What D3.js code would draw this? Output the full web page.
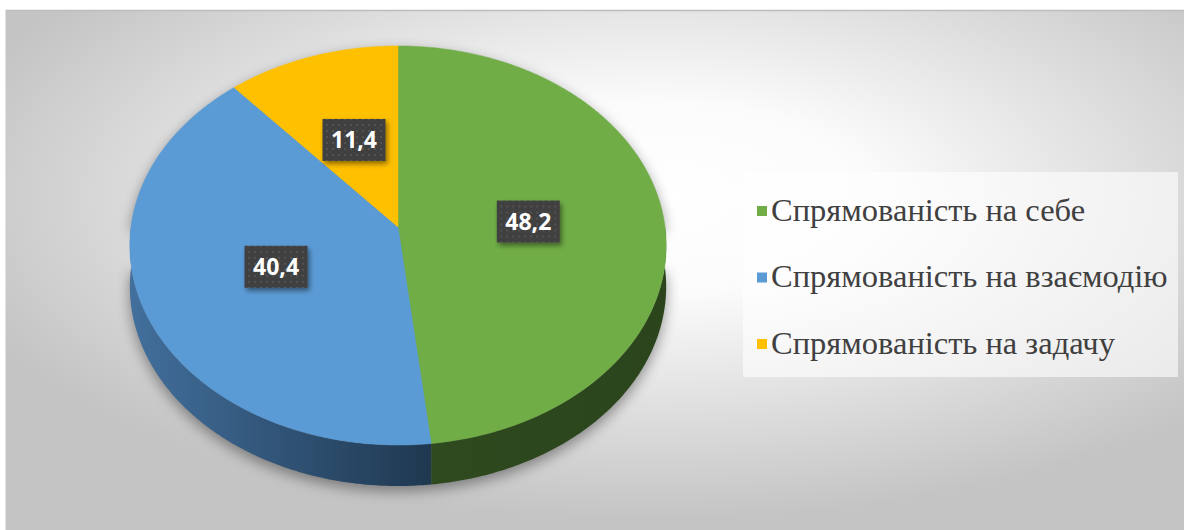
<!DOCTYPE html>
<html><head><meta charset="utf-8">
<script src="https://cdn.jsdelivr.net/npm/d3@7"></script>
<style>html,body{margin:0;padding:0;background:#fff;}svg{display:block;}
.legend-text{font-family:"Liberation Serif","Times New Roman",serif;}</style>
</head><body>
<svg id="chart" width="1184" height="530"></svg>
<script>
const categories = ["Спрямованість на себе", "Спрямованість на взаємодію", "Спрямованість на задачу"];
const values = [48.2, 40.4, 11.4];
const valueLabels = ["48,2", "40,4", "11,4"];
const topColors = ["#70AD47", "#5B9BD5", "#FFC000"];
const sideColors = [["#2e4a1e", "#2b441c"], ["#426f9c", "#1f3850"], ["#9a7300", "#7a5c00"]];

const svg = d3.select("#chart");
const defs = svg.append("defs");

// background gradient
const bg = defs.append("radialGradient").attr("id", "bg")
  .attr("cx", 0.55).attr("cy", 0.36).attr("r", 0.62);
bg.append("stop").attr("offset", 0).attr("stop-color", "#ffffff");
bg.append("stop").attr("offset", 0.3).attr("stop-color", "#fbfbfb");
bg.append("stop").attr("offset", 1).attr("stop-color", "#c4c4c4");
svg.append("rect").attr("x", 6).attr("y", 11).attr("width", 1178).attr("height", 519).attr("fill", "url(#bg)");
svg.append("line").attr("x1", 6).attr("x2", 1184).attr("y1", 10.5).attr("y2", 10.5).attr("stroke", "#bdbdbd").attr("stroke-width", 1.5);
svg.append("line").attr("x1", 5.5).attr("x2", 5.5).attr("y1", 10).attr("y2", 530).attr("stroke", "#e2e2e2").attr("stroke-width", 1);

// projection of a tilted disc with mild perspective
const cx = 398, cy = 227, R = 267, A = 0.0927, B = 197.8, depth = 41;
function proj(theta, f, dz) {
  const u = f * Math.sin(theta), v = -f * Math.cos(theta);
  const d = 1 - A * v;
  return [cx + R * u / d, cy + B * v / d + (dz || 0)];
}
function samples(a0, a1) {
  const n = Math.max(2, Math.ceil((a1 - a0) / 0.01));
  return d3.range(n + 1).map(i => a0 + (a1 - a0) * i / n);
}
const line = d3.line();

const pie = d3.pie().sort(null).startAngle(0).endAngle(2 * Math.PI);
const arcs = pie(values);

// shadow
const sh = defs.append("filter").attr("id", "shadow").attr("x", "-20%").attr("y", "-20%").attr("width", "140%").attr("height", "140%");
sh.append("feGaussianBlur").attr("in", "SourceAlpha").attr("stdDeviation", 7).attr("result", "b");
sh.append("feOffset").attr("in", "b").attr("dx", 0).attr("dy", 5).attr("result", "o");
sh.append("feComponentTransfer").attr("in", "o").append("feFuncA").attr("type", "linear").attr("slope", 0.4);

const frontBottom = samples(Math.PI / 2, 3 * Math.PI / 2).reverse().map(t => proj(t, 1, depth));
const silhouette = samples(-Math.PI / 2, Math.PI / 2).map(t => proj(t, 1, 0)).concat(frontBottom);
svg.append("path").attr("d", line(silhouette) + "Z").attr("fill", "#000").attr("filter", "url(#shadow)");

// side faces
arcs.forEach((a, i) => {
  const s0 = Math.max(a.startAngle, Math.PI / 2), s1 = Math.min(a.endAngle, 3 * Math.PI / 2);
  if (s1 <= s0) return;
  const gid = "side" + i;
  const p0 = proj(s0, 1, 0), p1 = proj(s1, 1, 0);
  const g = defs.append("linearGradient").attr("id", gid).attr("gradientUnits", "userSpaceOnUse")
    .attr("x1", Math.min(p0[0], p1[0])).attr("x2", Math.max(p0[0], p1[0])).attr("y1", 0).attr("y2", 0);
  const leftFirst = p0[0] > p1[0];
  g.append("stop").attr("offset", 0).attr("stop-color", leftFirst ? sideColors[i][0] : sideColors[i][1]);
  g.append("stop").attr("offset", 1).attr("stop-color", leftFirst ? sideColors[i][1] : sideColors[i][0]);
  const ts = samples(s0, s1);
  const pts = ts.map(t => proj(t, 1, 0)).concat(ts.slice().reverse().map(t => proj(t, 1, depth)));
  svg.append("path").attr("d", line(pts) + "Z").attr("fill", "url(#" + gid + ")");
});

// top faces
arcs.forEach((a, i) => {
  const pts = [proj(0, 0, 0)].concat(samples(a.startAngle, a.endAngle).map(t => proj(t, 1, 0)));
  svg.append("path").attr("d", line(pts) + "Z").attr("fill", topColors[i])
    .attr("stroke", topColors[i]).attr("stroke-width", 0.5);
});

// data labels
const pat = defs.append("pattern").attr("id", "dots").attr("patternUnits", "userSpaceOnUse").attr("width", 6).attr("height", 6);
pat.append("rect").attr("width", 6).attr("height", 6).attr("fill", "#3f3f3f");
pat.append("circle").attr("cx", 3).attr("cy", 3).attr("r", 1.1).attr("fill", "#585858");
const ls = defs.append("filter").attr("id", "lshadow").attr("x", "-30%").attr("y", "-30%").attr("width", "160%").attr("height", "160%");
ls.append("feDropShadow").attr("dx", 2).attr("dy", 3).attr("stdDeviation", 2.5).attr("flood-color", "#000").attr("flood-opacity", 0.45);

const bw = 63, bh = 42;
arcs.forEach((a, i) => {
  const mid = (a.startAngle + a.endAngle) / 2;
  const [x, y] = proj(mid, 0.49, 0);
  const g = svg.append("g").attr("transform", `translate(${x},${y})`);
  g.append("rect").attr("x", -bw / 2).attr("y", -bh / 2).attr("width", bw).attr("height", bh)
    .attr("fill", "url(#dots)").attr("filter", "url(#lshadow)");
  g.append("text").attr("text-anchor", "middle").attr("dy", "0.36em")
    .style("font-family", "'Open Sans', 'DejaVu Sans', sans-serif").style("font-weight", 700)
    .style("font-size", "23px").attr("fill", "#fff").text(valueLabels[i]);
});

// legend
svg.append("rect").attr("x", 743).attr("y", 172).attr("width", 435).attr("height", 205)
  .attr("fill", "#ffffff").attr("fill-opacity", 0.6);
const ly = d3.scalePoint().domain(categories).range([210, 343]);
const lg = svg.append("g").selectAll("g").data(categories).join("g")
  .attr("transform", d => `translate(757,${ly(d)})`);
lg.append("rect").attr("x", 0).attr("y", -4).attr("width", 10).attr("height", 10)
  .attr("fill", (d, i) => topColors[i]);
lg.append("text").attr("class", "legend-text").attr("x", 14).attr("dy", "0.33em")
  .style("font-size", "32.5px").attr("fill", "#404040").text(d => d);
</script>
</body></html>
